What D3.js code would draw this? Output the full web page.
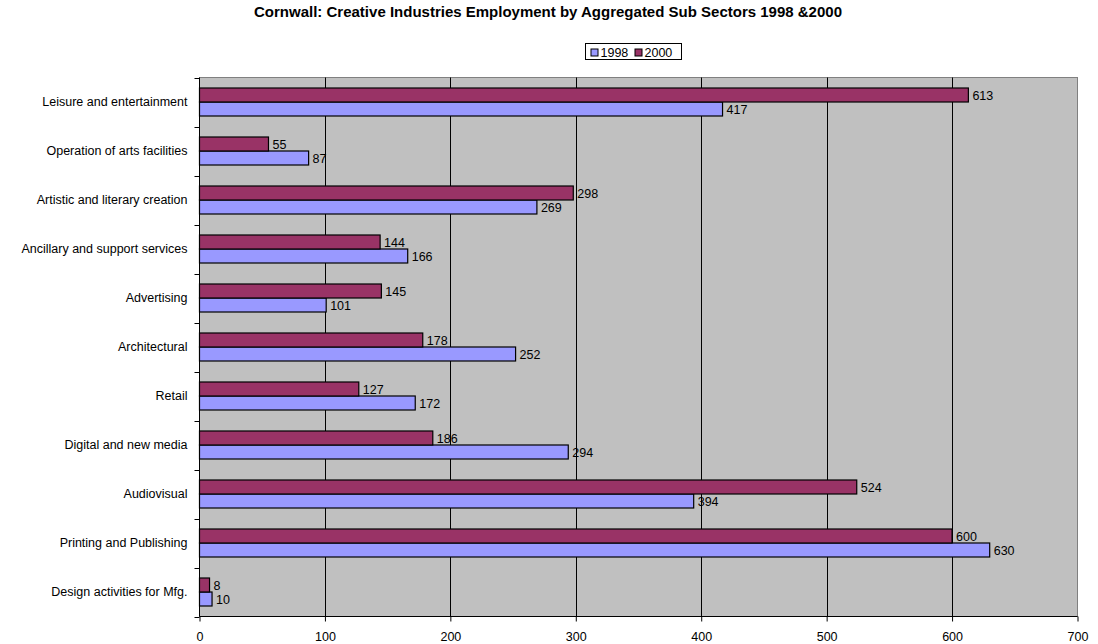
<!DOCTYPE html>
<html>
<head>
<meta charset="utf-8">
<script src="https://cdn.jsdelivr.net/npm/d3@7"></script>
<style>
  body { margin: 0; background: #fff; }
  svg { display: block; font-family: Arial, "Liberation Sans", sans-serif; }
</style>
</head>
<body>
<svg id="chart" width="1098" height="644"></svg>
<script>
// Sub-sector categories, listed top to bottom
const categories = [
  "Leisure and entertainment",
  "Operation of arts facilities",
  "Artistic and literary creation",
  "Ancillary and support services",
  "Advertising",
  "Architectural",
  "Retail",
  "Digital and new media",
  "Audiovisual",
  "Printing and Publishing",
  "Design activities for Mfg."
];
const values1998 = [417, 87, 269, 166, 101, 252, 172, 294, 394, 630, 10];
const values2000 = [613, 55, 298, 144, 145, 178, 127, 186, 524, 600, 8];
const seriesNames = ["1998", "2000"];
const xTicks = [0, 100, 200, 300, 400, 500, 600, 700];

const colors = { "1998": "#9999FF", "2000": "#993366" };
const FONT = "Arial, 'Liberation Sans', sans-serif";
const LABEL_SIZE = "12.5px";

const svg = d3.select("#chart");
const plot = { left: 199.5, top: 77.5, right: 1077.5, bottom: 616.5 };

const x = d3.scaleLinear().domain([0, 700]).range([plot.left, plot.right]);
const y = d3.scaleBand().domain(categories).range([plot.top, plot.bottom]);
const inner = d3.scaleBand().domain(["2000", "1998"])
  .range([0, 28]).paddingInner(0);
const offset = (y.bandwidth() - 28) / 2;

// Title
svg.append("text")
  .attr("x", 548).attr("y", 17)
  .attr("text-anchor", "middle")
  .attr("font-size", "15px").attr("font-weight", "bold")
  .text("Cornwall: Creative Industries Employment by Aggregated Sub Sectors 1998 &2000");

// Plot background
svg.append("rect")
  .attr("x", plot.left).attr("y", plot.top)
  .attr("width", plot.right - plot.left).attr("height", plot.bottom - plot.top)
  .attr("fill", "#C0C0C0").attr("stroke", "#808080").attr("stroke-width", 1);

// Vertical gridlines
svg.append("g")
  .selectAll("line")
  .data(xTicks.slice(1, -1))
  .join("line")
  .attr("x1", d => Math.round(x(d)) + 0.5).attr("x2", d => Math.round(x(d)) + 0.5)
  .attr("y1", plot.top).attr("y2", plot.bottom)
  .attr("stroke", "#000").attr("stroke-width", 1);

// Bars
const rows = categories.map((c, i) => ({ cat: c, "1998": values1998[i], "2000": values2000[i] }));
const groups = svg.append("g").selectAll("g")
  .data(rows).join("g")
  .attr("transform", d => `translate(0,${y(d.cat) + offset})`);

seriesNames.forEach(s => {
  groups.append("rect")
    .attr("x", x(0))
    .attr("y", inner(s))
    .attr("width", d => x(d[s]) - x(0))
    .attr("height", inner.bandwidth())
    .attr("fill", colors[s])
    .attr("stroke", "#000").attr("stroke-width", 1.2);
  groups.append("text")
    .attr("x", d => x(d[s]) + 4)
    .attr("y", inner(s) + inner.bandwidth() / 2 + 4.5)
    .attr("font-size", LABEL_SIZE)
    .text(d => d[s]);
});

// X axis
const xAxis = d3.axisBottom(x).tickValues(xTicks).tickSize(5).tickPadding(11);
const gx = svg.append("g")
  .attr("transform", `translate(0,${plot.bottom})`)
  .call(xAxis);
gx.select(".domain").attr("stroke", "#000").attr("d", `M${plot.left},0H${plot.right}`);
gx.selectAll("text").attr("font-size", LABEL_SIZE).attr("font-family", FONT).attr("fill", "#000");

// Y axis
const yAxis = d3.axisLeft(y).tickSize(0).tickPadding(12);
const gy = svg.append("g")
  .attr("transform", `translate(${plot.left},0)`)
  .call(yAxis);
gy.select(".domain").attr("stroke", "#000").attr("d", `M0,${plot.top}V${plot.bottom}`);
gy.selectAll("text").attr("font-size", LABEL_SIZE).attr("font-family", FONT).attr("fill", "#000");
// category boundary ticks
svg.append("g").selectAll("line")
  .data(categories.concat(["__end"]))
  .join("line")
  .attr("x1", plot.left - 5).attr("x2", plot.left)
  .attr("y1", (d, i) => Math.round(plot.top + i * y.step()) + 0.5)
  .attr("y2", (d, i) => Math.round(plot.top + i * y.step()) + 0.5)
  .attr("stroke", "#000");

// Legend
const legend = svg.append("g").attr("transform", "translate(585.5,43.5)");
legend.append("rect").attr("width", 96).attr("height", 16)
  .attr("fill", "#fff").attr("stroke", "#000");
seriesNames.forEach((s, i) => {
  const gx0 = 5.5 + i * 44;
  legend.append("rect").attr("x", gx0).attr("y", 5.5).attr("width", 7).attr("height", 7)
    .attr("fill", colors[s]).attr("stroke", "#000");
  legend.append("text").attr("x", gx0 + 9.5).attr("y", 13.5)
    .attr("font-size", LABEL_SIZE).text(s);
});
</script>
</body>
</html>
